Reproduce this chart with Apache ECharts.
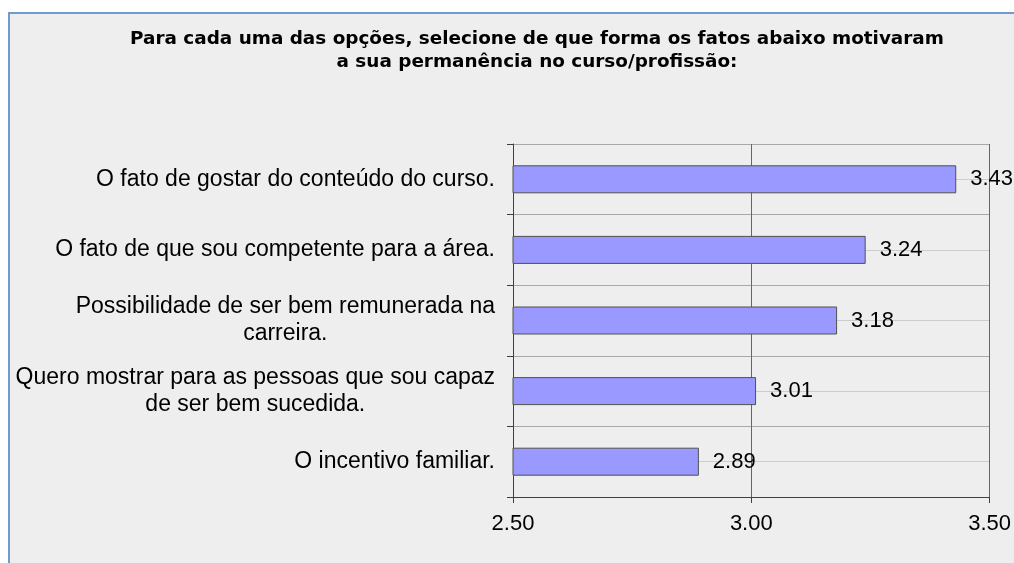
<!DOCTYPE html>
<html>
<head>
<meta charset="utf-8">
<script src="https://cdn.jsdelivr.net/npm/echarts@6/dist/echarts.min.js"></script>
<style>
  html, body { margin: 0; padding: 0; background: #ffffff; }
  #frame { position: absolute; left: 8px; top: 12px; width: 1100px; height: 600px;
           background: #eeeeee; border-left: 2px solid #6f9bd1; border-top: 2px solid #6f9bd1; }
  #chart { position: absolute; left: 0; top: 0; width: 1014px; height: 563px; }
</style>
</head>
<body>
<div id="frame"></div>
<div id="chart"></div>
<script>
const titleText = 'Para cada uma das opções, selecione de que forma os fatos abaixo motivaram\na sua permanência no curso/profissão:';
const categories = [
  'O fato de gostar do conteúdo do curso.',
  'O fato de que sou competente para a área.',
  'Possibilidade de ser bem remunerada na\ncarreira.',
  'Quero mostrar para as pessoas que sou capaz\nde ser bem sucedida.',
  'O incentivo familiar.'
];
const values = [3.43, 3.24, 3.18, 3.01, 2.89];
const xMin = 2.5;
const xMax = 3.5;
const xStep = 0.5;

const font = '"Liberation Sans", Arial, sans-serif';
const chart = echarts.init(document.getElementById('chart'), null, { renderer: 'canvas' });
chart.setOption({
  backgroundColor: 'transparent',
  animation: false,
  title: {
    text: titleText,
    left: 532,
    top: 23,
    textAlign: 'center',
    textStyle: { fontFamily: '"DejaVu Sans", sans-serif', fontWeight: 'bold', fontSize: 18.4, lineHeight: 23, color: '#000' }
  },
  grid: { left: 513, right: 22, top: 144, bottom: 66, containLabel: false },
  xAxis: {
    type: 'value', min: xMin, max: xMax, interval: xStep,
    axisLine: { show: true, lineStyle: { color: '#404040', width: 1 } },
    axisTick: { show: true, length: 6, lineStyle: { color: '#404040' } },
    axisLabel: { formatter: v => v.toFixed(2), fontFamily: font, fontSize: 22, color: '#000', margin: 16 },
    splitLine: { show: true, lineStyle: { color: '#666666', width: 1 } }
  },
  yAxis: [{
    type: 'category', data: categories, inverse: true,
    axisLine: { show: true, lineStyle: { color: '#404040', width: 1 } },
    axisTick: { show: true, length: 6, lineStyle: { color: '#404040' } },
    axisLabel: {
      interval: 0, margin: 18, color: '#000',
      formatter: v => v.split('\n').map(s => '{c|' + s + '}').join('\n'),
      rich: { c: { align: 'center', fontFamily: font, fontSize: 23, lineHeight: 27, color: '#000' } }
    },
    splitLine: { show: true, lineStyle: { color: '#a8a8a8', width: 1 } }
  }, {
    type: 'category', data: categories, inverse: true, position: 'left',
    axisLine: { show: false }, axisTick: { show: false }, axisLabel: { show: false },
    splitLine: { show: true, alignWithLabel: true, lineStyle: { color: '#cccccc', width: 1 } }
  }],
  series: [{
    type: 'bar', data: values, yAxisIndex: 0, barWidth: 28,
    itemStyle: { color: '#9999ff', borderColor: '#505050', borderWidth: 1 },
    label: { show: true, position: 'right', distance: 14, formatter: p => p.value.toFixed(2),
             fontFamily: font, fontSize: 22, color: '#000' }
  }]
});
</script>
</body>
</html>
